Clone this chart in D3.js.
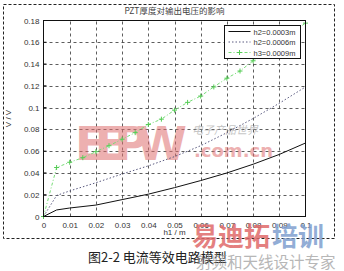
<!DOCTYPE html>
<html>
<head>
<meta charset="utf-8">
<script src="https://cdn.jsdelivr.net/npm/d3@7"></script>
<style>
  body { margin: 0; background: #fff; }
  svg { display: block; font-family: "Liberation Sans", Arial, sans-serif; }
</style>
</head>
<body>
<div id="chart"></div>
<script>
// values
var xTicks = [0, 0.01, 0.02, 0.03, 0.04, 0.05, 0.06, 0.07, 0.08, 0.09, 0.1];
var yTicks = [0, 0.02, 0.04, 0.06, 0.08, 0.1, 0.12, 0.14, 0.16, 0.18];

var xA = [0, 0.005, 0.01, 0.02, 0.03, 0.04, 0.05, 0.06, 0.07, 0.08, 0.09, 0.1];
var yA = [0, 0.006, 0.0078, 0.0105, 0.0155, 0.0205, 0.0265, 0.033, 0.0400, 0.048, 0.057, 0.0675];   // h2=0.0003m
var yB = [0, 0.0193, 0.0235, 0.031, 0.039, 0.0465, 0.055, 0.065, 0.077, 0.090, 0.104, 0.119];       // h2=0.0006m

var xC = [0, 0.005, 0.01, 0.015, 0.02, 0.025, 0.03, 0.035, 0.04, 0.045, 0.05,
          0.055, 0.06, 0.065, 0.07, 0.075, 0.08, 0.085, 0.09, 0.095, 0.1];
var yC = [0, 0.045, 0.0498, 0.054, 0.0595, 0.065, 0.071, 0.077, 0.0845, 0.0894, 0.0977,
          0.1048, 0.1106, 0.119, 0.127, 0.1336, 0.143, 0.151, 0.160, 0.169, 0.1776];  // h3=0.0009m

var legendNames = ["h2=0.0003m", "h2=0.0006m", "h3=0.0009m"];

var W = 344, H = 271;
var x0 = 43.5, x1 = 305.5, y0 = 216.5, y1 = 20.5;

var svg = d3.select("#chart").append("svg")
  .attr("width", W).attr("height", H);

// outer dashed figure frame
svg.append("rect")
  .attr("x", 3.5).attr("y", 4.5).attr("width", 331).attr("height", 234)
  .attr("fill", "none").attr("stroke", "#222").attr("stroke-dasharray", "3,2");

var x = d3.scaleLinear().domain([0, 0.1]).range([x0, x1]);
var y = d3.scaleLinear().domain([0, 0.18]).range([y0, y1]);

// grid
var grid = svg.append("g");
grid.selectAll(".gx").data(xTicks.slice(1, -1)).enter().append("line")
  .attr("x1", function(d) { return Math.round(x(d)) + 0.5; })
  .attr("x2", function(d) { return Math.round(x(d)) + 0.5; })
  .attr("y1", y0).attr("y2", y1)
  .attr("stroke", "#333").attr("stroke-width", 0.8).attr("stroke-dasharray", "3,3");
grid.selectAll(".gy").data(yTicks.slice(1, -1)).enter().append("line")
  .attr("y1", function(d) { return Math.round(y(d)) + 0.5; })
  .attr("y2", function(d) { return Math.round(y(d)) + 0.5; })
  .attr("x1", x0).attr("x2", x1)
  .attr("stroke", "#333").attr("stroke-width", 0.8).attr("stroke-dasharray", "3,3");

// watermark (EEPW)
var wm = svg.append("g").attr("opacity", 0.55);
wm.append("text").attr("x", 75).attr("y", 160)
  .attr("font-family", "DejaVu Sans, sans-serif").attr("font-weight", "bold")
  .attr("font-size", 46).attr("fill", "#e07070").attr("textLength", 112)
  .text("EEPW");
wm.append("text").attr("x", 192).attr("y", 134)
  .attr("font-family", "Noto Sans CJK SC").attr("font-size", 11).attr("fill", "#999")
  .attr("font-style", "italic").text("电子产品世界");
wm.append("text").attr("x", 194).attr("y", 157)
  .attr("font-family", "DejaVu Sans, sans-serif").attr("font-weight", "bold")
  .attr("font-size", 18).attr("fill", "#e07070").text(".com.cn");

// lines
var line = d3.line()
  .x(function(d) { return x(d[0]); })
  .y(function(d) { return y(d[1]); });

var plot = svg.append("g");
plot.append("path").datum(d3.zip(xA, yA)).attr("d", line)
  .attr("fill", "none").attr("stroke", "#111").attr("stroke-width", 1);
plot.append("path").datum(d3.zip(xA, yB)).attr("d", line)
  .attr("fill", "none").attr("stroke", "#5a5a80").attr("stroke-width", 1)
  .attr("stroke-dasharray", "1.5,2");
plot.append("path").datum(d3.zip(xC, yC)).attr("d", line)
  .attr("fill", "none").attr("stroke", "#77dd77").attr("stroke-width", 1)
  .attr("stroke-dasharray", "3,2,1,2");
plot.selectAll(".mk").data(d3.zip(xC, yC)).enter().append("path")
  .attr("d", function(d) {
    var px = x(d[0]), py = y(d[1]);
    return "M" + (px - 2.5) + "," + py + "H" + (px + 2.5) + "M" + px + "," + (py - 2.5) + "V" + (py + 2.5);
  })
  .attr("stroke", "#55cc55").attr("stroke-width", 1);

// axes box
svg.append("rect").attr("x", x0).attr("y", y1)
  .attr("width", x1 - x0).attr("height", y0 - y1)
  .attr("fill", "none").attr("stroke", "#111").attr("stroke-width", 1);

var fmt = function(d) { return d === 0 ? "0" : String(+d.toFixed(2)); };
var xAxis = svg.append("g").attr("transform", "translate(0," + y0 + ")")
  .call(d3.axisBottom(x).tickValues(xTicks).tickSize(0).tickPadding(6).tickFormat(fmt));
var yAxis = svg.append("g").attr("transform", "translate(" + x0 + ",0)")
  .call(d3.axisLeft(y).tickValues(yTicks).tickSize(0).tickPadding(4).tickFormat(fmt));
[xAxis, yAxis].forEach(function(a) {
  a.select(".domain").remove();
  a.selectAll("text").attr("font-size", 8).attr("fill", "#333");
});
// small tick marks inside the box
svg.append("g").selectAll("line").data(yTicks).enter().append("line")
  .attr("x1", x0).attr("x2", x0 + 3)
  .attr("y1", function(d) { return y(d); }).attr("y2", function(d) { return y(d); })
  .attr("stroke", "#111");

// labels
svg.append("text").attr("x", (x0 + x1) / 2).attr("y", 14)
  .attr("text-anchor", "middle").attr("font-size", 8.5).attr("fill", "#444")
  .attr("font-family", "Noto Sans CJK SC").text("PZT厚度对输出电压的影响");
svg.append("text").attr("x", (x0 + x1) / 2).attr("y", 235)
  .attr("text-anchor", "middle").attr("font-size", 8).attr("fill", "#333")
  .text("h1 / m");
svg.append("text")
  .attr("transform", "translate(11," + ((y0 + y1) / 2) + ") rotate(-90)")
  .attr("text-anchor", "middle").attr("font-size", 8).attr("fill", "#333")
  .text("V / V");

// legend
var lg = svg.append("g").attr("transform", "translate(224.5,25.5)");
lg.append("rect").attr("width", 76).attr("height", 33)
  .attr("fill", "#fff").attr("stroke", "#111");
var styles = [
  {stroke: "#111", dash: null},
  {stroke: "#5a5a80", dash: "1.5,2"},
  {stroke: "#77dd77", dash: "3,2,1,2"}
];
legendNames.forEach(function(name, i) {
  var ly = 6 + i * 10.5;
  lg.append("line").attr("x1", 4).attr("x2", 26).attr("y1", ly).attr("y2", ly)
    .attr("stroke", styles[i].stroke).attr("stroke-dasharray", styles[i].dash);
  if (i === 2) {
    lg.append("path").attr("d", "M12.5," + ly + "H17.5M15," + (ly - 2.5) + "V" + (ly + 2.5))
      .attr("stroke", "#55cc55");
  }
  lg.append("text").attr("x", 29).attr("y", ly + 3)
    .attr("font-size", 7.5).attr("fill", "#333").text(name);
});

// caption
svg.append("text").attr("x", 88).attr("y", 262)
  .attr("font-family", "Noto Sans CJK SC").attr("font-size", 13).attr("fill", "#222")
  .text("图2-2 电流等效电路模型");

// bottom watermark
var wm2 = svg.append("g");
wm2.append("text").attr("x", 192).attr("y", 246)
  .attr("font-family", "Noto Sans CJK SC").attr("font-weight", "bold")
  .attr("font-size", 26).attr("fill", "#e06a6a").attr("opacity", 0.85)
  .text("易迪拓");
wm2.append("text").attr("x", 272).attr("y", 246)
  .attr("font-family", "Noto Sans CJK SC").attr("font-weight", "bold")
  .attr("font-size", 26).attr("fill", "#7f9fcf").attr("opacity", 0.85)
  .text("培训");
wm2.append("text").attr("x", 196).attr("y", 268)
  .attr("font-family", "Noto Sans CJK SC").attr("font-size", 15.5)
  .attr("fill", "#999").attr("opacity", 0.7)
  .text("射频和天线设计专家");
</script>
</body>
</html>
